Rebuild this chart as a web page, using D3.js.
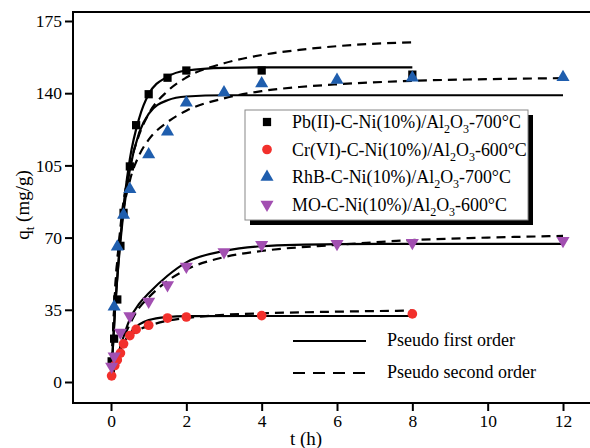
<!DOCTYPE html>
<html lang="en">
<head>
  <meta charset="UTF-8">
  <title>Adsorption kinetics</title>
  <style>
    body { margin: 0; background: #fff; }
    #chart { width: 590px; height: 448px; overflow: hidden; }
    text { font-family: "Liberation Serif", "Times New Roman", serif; fill: #000; }
  </style>
  <script src="https://d3js.org/d3.v7.min.js"></script>
</head>
<body>
<div id="chart"></div>
<script>
  // Measured points
  var pbT = [0.017, 0.083, 0.167, 0.25, 0.333, 0.5, 0.667, 1, 1.5, 2, 4, 8];
  var pbQ = [10, 21, 40, 66, 82, 104.5, 124.5, 139.5, 147.5, 151, 151, 149];
  var crT = [0.017, 0.1, 0.167, 0.25, 0.333, 0.5, 0.667, 1, 1.5, 2, 4, 8];
  var crQ = [3, 8, 10.7, 14, 18.5, 22.5, 25.5, 27.5, 31, 31.5, 32.2, 33];
  var rhbT = [0.083, 0.167, 0.333, 0.5, 1, 1.5, 2, 3, 4, 6, 8, 12];
  var rhbQ = [36.5, 65.6, 81, 93.4, 110.3, 121.3, 135.4, 140.3, 144.7, 146.4, 147.5, 147.7];
  var moT = [0.017, 0.083, 0.25, 0.5, 1, 1.5, 2, 3, 4, 6, 8, 12];
  var moQ = [7.5, 12.5, 24, 32, 39, 47, 56, 63, 66.5, 67, 67.5, 68.5];

  // Fitted curves (first order = solid, second order = dashed)
  var pbFit1T = [0.02, 0.1, 0.25, 0.5, 0.75, 1, 1.5, 2, 3, 4, 8];
  var pbFit1Q = [7, 33, 70, 108, 128, 139.5, 148, 151, 152.3, 152.5, 152.5];
  var pbFit2T = [0.02, 0.1, 0.25, 0.5, 0.75, 1, 1.5, 2, 3, 4, 5, 6, 8];
  var pbFit2Q = [10, 41, 75, 104, 120, 130, 141, 147.6, 154.5, 158.5, 161, 162.8, 164.7];
  var crFit1T = [0.02, 0.1, 0.25, 0.5, 0.75, 1, 1.5, 2, 4, 8];
  var crFit1Q = [1.7, 7.6, 16, 23.5, 27.9, 30, 31.5, 31.9, 32, 32];
  var crFit2T = [0.02, 0.1, 0.25, 0.5, 0.75, 1, 1.5, 2, 3, 4, 6, 8];
  var crFit2Q = [2, 8.5, 15.7, 21.9, 25.4, 27.2, 29.7, 31, 32.6, 33.3, 34.1, 34.6];
  var rhbFit1T = [0.02, 0.1, 0.25, 0.5, 0.75, 1, 1.5, 2, 3, 4, 8, 12];
  var rhbFit1Q = [7, 33, 68, 103, 121, 130, 136.6, 138.4, 139, 139, 139, 139];
  var rhbFit2T = [0.02, 0.1, 0.25, 0.5, 0.75, 1, 1.5, 2, 3, 4, 5, 6, 8, 10, 12];
  var rhbFit2Q = [10, 41, 72.6, 97.6, 110, 117.5, 126, 131.5, 137.5, 141, 143, 144.3, 146, 146.8, 147.3];
  var moFit1T = [0.02, 0.1, 0.25, 0.5, 0.75, 1, 1.5, 2, 3, 4, 6, 8, 12];
  var moFit1Q = [1.5, 7, 17, 30.5, 38, 43, 51.5, 58, 63.5, 65.8, 66.8, 67, 67];
  var moFit2T = [0.02, 0.1, 0.25, 0.5, 0.75, 1, 1.5, 2, 3, 4, 6, 8, 10, 12];
  var moFit2Q = [2, 8, 17, 28, 36, 41, 49, 54.5, 60.5, 63.5, 66.5, 68.8, 70, 70.8];

  // Ticks and labels
  var xTicks = [0, 2, 4, 6, 8, 10, 12];
  var yTicks = [0, 35, 70, 105, 140, 175];
  var seriesNames = ["Pb(II)-C-Ni(10%)/Al|2|O|3|-700°C", "Cr(VI)-C-Ni(10%)/Al|2|O|3|-600°C",
                     "RhB-C-Ni(10%)/Al|2|O|3|-700°C", "MO-C-Ni(10%)/Al|2|O|3|-600°C"];
  var fitNames = ["Pseudo first order", "Pseudo second order"];

  var colors = ["#000000", "#f2302c", "#1f5eae", "#a24fb1"];
  var symbols = [d3.symbolSquare, d3.symbolCircle, d3.symbolTriangle, d3.symbolTriangle];
  var symSizes = [68, 74, 74, 74];
  var symRot = [0, 0, 0, 180];

  // Layout (plot box runs past the right edge of the picture)
  var padL = 73, padT = 12, padR = 600, padB = 403;
  var xScale = d3.scaleLinear().domain([-1.009, 12.982]).range([padL, padR]);
  var yScale = d3.scaleLinear().domain([-10.18, 179.36]).range([padB, padT]);

  var svg = d3.select("#chart").append("svg")
      .attr("width", 590).attr("height", 448);

  // Frame
  svg.append("path")
      .attr("d", "M" + padR + "," + padT + "H" + padL + "V" + padB + "H" + padR)
      .attr("fill", "none").attr("stroke", "#000").attr("stroke-width", 2);

  // Axes
  var xAxis = svg.append("g").attr("transform", "translate(0," + padB + ")")
      .call(d3.axisBottom(xScale).tickValues(xTicks).tickSize(8).tickPadding(4).tickSizeOuter(0));
  var yAxis = svg.append("g").attr("transform", "translate(" + padL + ",0)")
      .call(d3.axisLeft(yScale).tickValues(yTicks).tickSize(8).tickPadding(3).tickSizeOuter(0));
  [xAxis, yAxis].forEach(function(ax) {
    ax.select(".domain").remove();
    ax.selectAll("line").attr("stroke", "#000").attr("stroke-width", 2);
    ax.selectAll("text").style("font-size", "17.5px")
        .style("font-family", '"Liberation Serif", "Times New Roman", serif');
  });

  // Axis titles
  svg.append("text").attr("x", 306).attr("y", 445).attr("text-anchor", "middle")
      .style("font-size", "19px").text("t (h)");
  var yTitle = svg.append("text").attr("transform", "translate(29,205) rotate(-90)")
      .attr("text-anchor", "middle").style("font-size", "19px");
  yTitle.append("tspan").text("q");
  yTitle.append("tspan").attr("dy", 5).style("font-size", "13px").text("t");
  yTitle.append("tspan").attr("dy", -5).text(" (mg/g)");

  // Fitted lines
  var line = d3.line()
      .x(function(d) { return xScale(d[0]); })
      .y(function(d) { return yScale(d[1]); })
      .curve(d3.curveMonotoneX);
  var fits = [
    [pbFit1T, pbFit1Q, false], [pbFit2T, pbFit2Q, true],
    [crFit1T, crFit1Q, false], [crFit2T, crFit2Q, true],
    [rhbFit1T, rhbFit1Q, false], [rhbFit2T, rhbFit2Q, true],
    [moFit1T, moFit1Q, false], [moFit2T, moFit2Q, true]
  ];
  fits.forEach(function(f) {
    svg.append("path")
        .datum(d3.zip(f[0], f[1]))
        .attr("d", line)
        .attr("fill", "none")
        .attr("stroke", "#000")
        .attr("stroke-width", 2.2)
        .attr("stroke-dasharray", f[2] ? "9,6" : null);
  });

  // Data markers
  var points = [[pbT, pbQ], [crT, crQ], [rhbT, rhbQ], [moT, moQ]];
  points.forEach(function(p, i) {
    svg.append("g").selectAll("path")
        .data(d3.zip(p[0], p[1]))
        .join("path")
        .attr("d", d3.symbol().type(symbols[i]).size(symSizes[i]))
        .attr("transform", function(d) {
          return "translate(" + xScale(d[0]) + "," + yScale(d[1]) + ") rotate(" + symRot[i] + ")";
        })
        .attr("fill", colors[i]);
  });

  // Series legend with shadow box
  var lg = svg.append("g").attr("transform", "translate(245,110)");
  lg.append("rect").attr("x", 5).attr("y", 5).attr("width", 283).attr("height", 110).attr("fill", "#000");
  lg.append("rect").attr("width", 283).attr("height", 110)
      .attr("fill", "#fff").attr("stroke", "#888").attr("stroke-width", 1);
  seriesNames.forEach(function(name, i) {
    var yy = 12 + i * 27.5;
    lg.append("path")
        .attr("d", d3.symbol().type(symbols[i]).size(symSizes[i]))
        .attr("transform", "translate(22," + yy + ") rotate(" + symRot[i] + ")")
        .attr("fill", colors[i]);
    var parts = name.split("|");
    var t = lg.append("text").attr("x", 47).attr("y", yy + 6).style("font-size", "17.9px");
    parts.forEach(function(s, j) {
      var ts = t.append("tspan").text(s);
      if (j % 2 === 1) ts.attr("dy", 5).style("font-size", "12px");
      else if (j > 0) ts.attr("dy", -5);
    });
  });

  // Fit legend
  fitNames.forEach(function(name, i) {
    var yy = 341 + i * 32;
    svg.append("line").attr("x1", 293).attr("x2", 366).attr("y1", yy).attr("y2", yy)
        .attr("stroke", "#000").attr("stroke-width", 2.2)
        .attr("stroke-dasharray", i === 1 ? "12,8" : null);
    svg.append("text").attr("x", 387).attr("y", yy + 5).style("font-size", "18px").text(name);
  });
</script>
</body>
</html>
